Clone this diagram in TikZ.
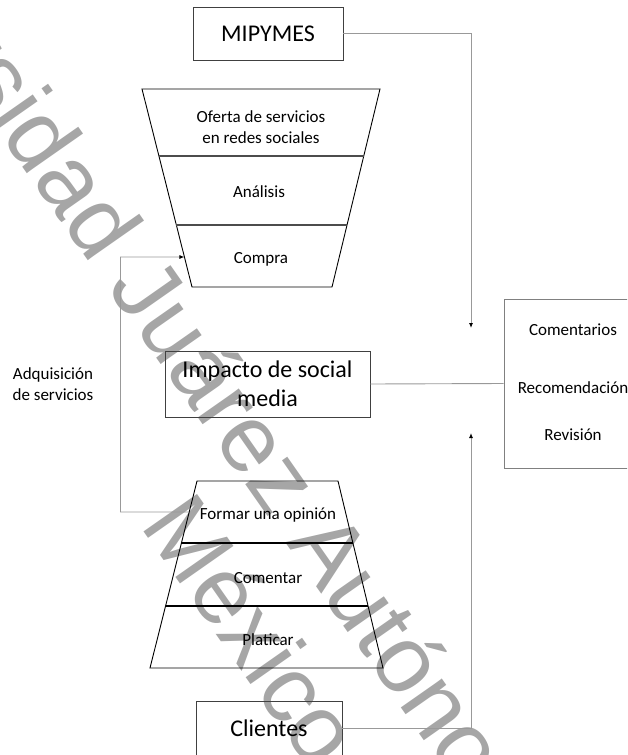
\documentclass[tikz,border=0pt]{standalone}
\usepackage{fontspec}
\setmainfont{Carlito}
\newfontfamily\wmfont{Liberation Sans}
\usetikzlibrary{arrows.meta,calc}
\begin{document}
\begin{tikzpicture}[x=1pt,y=-1pt,
  box/.style={draw=black!75, line width=0.9pt, inner sep=0pt},
  bigtxt/.style={font=\fontsize{24}{29}\selectfont},
  smalltxt/.style={font=\fontsize{17}{20.5}\selectfont, inner sep=0pt},
  link/.style={draw=black!40, line width=0.9pt},
  arr/.style={link, -{Latex[length=5pt,width=4pt,color=black]}},
  funnel/.style={draw=black, line width=0.9pt},
  tierA/.style={draw=black!70, line width=2.2pt},
  tierB/.style={draw=black, line width=1.4pt},
  watermark/.style={font=\wmfont\fontsize{95}{106}\selectfont, text=black!35,
    rotate=-55, anchor=base, inner sep=0pt}
]
\useasboundingbox (0,0) rectangle (627,755);
\clip (0,0) rectangle (627,755);

% watermark behind the diagram
\node[watermark] (wm1) at (316,586) {Universidad Juárez Autónoma de Tabasco};
\node[watermark] (wm2) at (226,649) {México};

% boxes
\node[box, bigtxt, minimum width=150pt, minimum height=53pt] (mip) at (268,33.5) {MIPYMES};
\node[box, bigtxt, align=center, minimum width=205pt, minimum height=66pt] (imp) at (267.5,384) {Impacto de social\\media};
\node[box, bigtxt, minimum width=146pt, minimum height=54pt] (cli) at (269,728) {Clientes};
\node[draw=black!50, line width=0.9pt, minimum width=138pt, minimum height=169pt, inner sep=0pt] (rb) at (573,383.5) {};
\node[smalltxt, anchor=base] (com) at (573,335) {Comentarios};
\node[smalltxt, anchor=base] (rec) at (573,393) {Recomendación};
\node[smalltxt, anchor=base] (rev) at (573,440) {Revisión};

% upper funnel
\coordinate (f1) at (142,89);
\coordinate (f2) at (380,89);
\coordinate (f3) at (332,287);
\coordinate (f4) at (192,287);
\draw[funnel] (f1) -- (f2) -- (f3) -- (f4) -- cycle;
\draw[tierA] ($(f1)!67/198!(f4)$) -- ($(f2)!67/198!(f3)$);
\draw[tierA] ($(f1)!136/198!(f4)$) -- ($(f2)!136/198!(f3)$);
\node[smalltxt, align=center, anchor=base] (oferta) at (261,143) {Oferta de servicios\\en redes sociales};
\node[smalltxt, anchor=base] (analisis) at (259,197) {Análisis};
\node[smalltxt, anchor=base] (compra) at (261,263) {Compra};

% lower funnel
\coordinate (g1) at (197,481);
\coordinate (g2) at (338,481);
\coordinate (g3) at (383,668);
\coordinate (g4) at (150,668);
\draw[funnel] (g1) -- (g2) -- (g3) -- (g4) -- cycle;
\draw[tierB] ($(g1)!62/187!(g4)$) -- ($(g2)!62/187!(g3)$);
\draw[tierB] ($(g1)!125/187!(g4)$) -- ($(g2)!125/187!(g3)$);
\node[smalltxt, anchor=base] (opinion) at (268,519) {Formar una opinión};
\node[smalltxt, anchor=base] (comentar) at (268,583) {Comentar};
\node[smalltxt, anchor=base] (platicar) at (268,645) {Platicar};

% side label
\node[smalltxt, align=center, anchor=base] (adq) at (53,400) {Adquisición\\de servicios};

% connectors
\coordinate (mipIn) at (471,328);
\coordinate (cliIn) at (471,433);
\draw[arr] (mip.east) -| (mipIn);
\draw[arr] (cli.east) -| (cliIn);
\draw[link] (imp.east) -- (rb.west);
\coordinate (opL) at ($(g1)!31/187!(g4)$);
\coordinate (compraL) at ($(f1)!168/198!(f4)$);
\coordinate (loopX) at (120.5,512);
\draw[arr] (opL) -- (loopX) |- (compraL);
\end{tikzpicture}
\end{document}
